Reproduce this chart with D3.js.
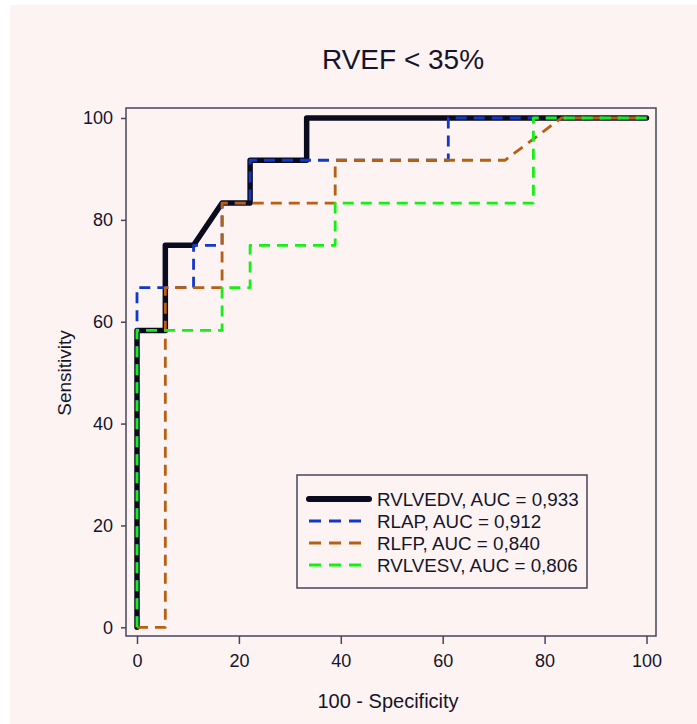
<!DOCTYPE html>
<html>
<head>
<meta charset="utf-8">
<script src="https://cdn.jsdelivr.net/npm/d3@7"></script>
<style>
  body { margin: 0; background: #ffffff; }
  text { font-family: "Liberation Sans", Arial, sans-serif; fill: #15152a; }
</style>
</head>
<body>
<div id="chart"></div>
<script>
// Chart data
const title = 'RVEF < 35%';
const xTicks = [0, 20, 40, 60, 80, 100];
const yTicks = [0, 20, 40, 60, 80, 100];
const seriesNames = ['RVLVEDV', 'RLAP', 'RLFP', 'RVLVESV'];
const aucValues = ['0,933', '0,912', '0,840', '0,806'];

// ROC points (100 - specificity, sensitivity)
const rvlvedvX = [0, 0, 5.56, 5.56, 11.1, 16.7, 22.2, 22.2, 33.3, 33.3, 100];
const rvlvedvY = [0, 58.3, 58.3, 75, 75, 83.3, 83.3, 91.7, 91.7, 100, 100];
const rlapX = [0, 0, 11.1, 11.1, 16.7, 16.7, 22.2, 22.2, 61.1, 61.1, 100];
const rlapY = [0, 66.7, 66.7, 75, 75, 83.3, 83.3, 91.7, 91.7, 100, 100];
const rlfpX = [0, 5.56, 5.56, 16.7, 16.7, 38.9, 38.9, 72.2, 83.3, 100];
const rlfpY = [0, 0, 66.7, 66.7, 83.3, 83.3, 91.7, 91.7, 100, 100];
const rvlvesvX = [0, 0, 16.7, 16.7, 22.2, 22.2, 38.9, 38.9, 77.8, 77.8, 100];
const rvlvesvY = [0, 58.3, 58.3, 66.7, 66.7, 75, 75, 83.3, 83.3, 100, 100];

const seriesX = [rvlvedvX, rlapX, rlfpX, rvlvesvX];
const seriesY = [rvlvedvY, rlapY, rlfpY, rvlvesvY];
const colors = ['#0b0b1e', '#1238c8', '#b85f12', '#14f014'];
const widths = [5.5, 2.8, 2.8, 2.8];
const dashes = [null, '11,7', '11,7', '11,7'];

const width = 697;
const height = 724;
const frame = { left: 126, top: 108, right: 656, bottom: 636 };

const svg = d3.select('#chart')
    .append('svg')
    .attr('width', width)
    .attr('height', height);

// Background
svg.append('rect')
    .attr('x', 10).attr('y', 5)
    .attr('width', width - 10).attr('height', height - 5)
    .attr('fill', '#fdf3f3');

// Scales
const x = d3.scaleLinear().domain([0, 100]).range([137, 646.5]);
const y = d3.scaleLinear().domain([0, 100]).range([627.3, 118]);

// Plot frame
svg.append('rect')
    .attr('x', frame.left).attr('y', frame.top)
    .attr('width', frame.right - frame.left)
    .attr('height', frame.bottom - frame.top)
    .attr('fill', 'none')
    .attr('stroke', '#45455a')
    .attr('stroke-width', 1.5);

// Axes
const yAxis = svg.append('g')
    .attr('transform', `translate(${frame.left},0)`)
    .call(d3.axisLeft(y).tickValues(yTicks).tickSize(5).tickPadding(8));
const xAxis = svg.append('g')
    .attr('transform', `translate(0,${frame.bottom})`)
    .call(d3.axisBottom(x).tickValues(xTicks).tickSize(8).tickPadding(10));

[xAxis, yAxis].forEach(a => {
    a.select('.domain').remove();
    a.selectAll('line').attr('stroke', '#45455a').attr('stroke-width', 1.5);
    a.selectAll('text')
        .style('font-size', '18px')
        .style('font-family', '"Liberation Sans", Arial, sans-serif')
        .attr('fill', '#15152a');
});

// Curves
const line = d3.line()
    .x(d => x(d[0]))
    .y(d => y(d[1]));

seriesNames.forEach((name, i) => {
    const pts = d3.zip(seriesX[i], seriesY[i]);
    const path = svg.append('path')
        .datum(pts)
        .attr('d', line)
        .attr('fill', 'none')
        .attr('stroke', colors[i])
        .attr('stroke-width', widths[i])
        .attr('stroke-linejoin', 'round')
        .attr('stroke-linecap', i === 0 ? 'round' : 'butt');
    if (dashes[i]) path.attr('stroke-dasharray', dashes[i]);
});

// Title and axis labels
svg.append('text')
    .attr('x', 403).attr('y', 69)
    .attr('text-anchor', 'middle')
    .style('font-size', '28px')
    .text(title);

svg.append('text')
    .attr('x', 388).attr('y', 708)
    .attr('text-anchor', 'middle')
    .style('font-size', '20px')
    .text('100 - Specificity');

svg.append('text')
    .attr('transform', 'translate(71,373) rotate(-90)')
    .attr('text-anchor', 'middle')
    .style('font-size', '19px')
    .text('Sensitivity');

// Legend
const legend = svg.append('g').attr('transform', 'translate(297,475)');
legend.append('rect')
    .attr('width', 290).attr('height', 113)
    .attr('fill', '#fdf3f3')
    .attr('stroke', '#45455a')
    .attr('stroke-width', 1.5);

const rowY = d3.scalePoint().domain(seriesNames).range([24, 90]);

seriesNames.forEach((name, i) => {
    const ly = rowY(name);
    const sample = legend.append('line')
        .attr('x1', 12).attr('x2', 72)
        .attr('y1', ly).attr('y2', ly)
        .attr('stroke', colors[i])
        .attr('stroke-width', i === 0 ? 6 : 3)
        .attr('stroke-linecap', i === 0 ? 'round' : 'butt');
    if (dashes[i]) sample.attr('stroke-dasharray', '12,8');
    legend.append('text')
        .attr('x', 80).attr('y', ly)
        .attr('dy', '0.36em')
        .style('font-size', '18.8px')
        .text(`${name}, AUC = ${aucValues[i]}`);
});
</script>
</body>
</html>
